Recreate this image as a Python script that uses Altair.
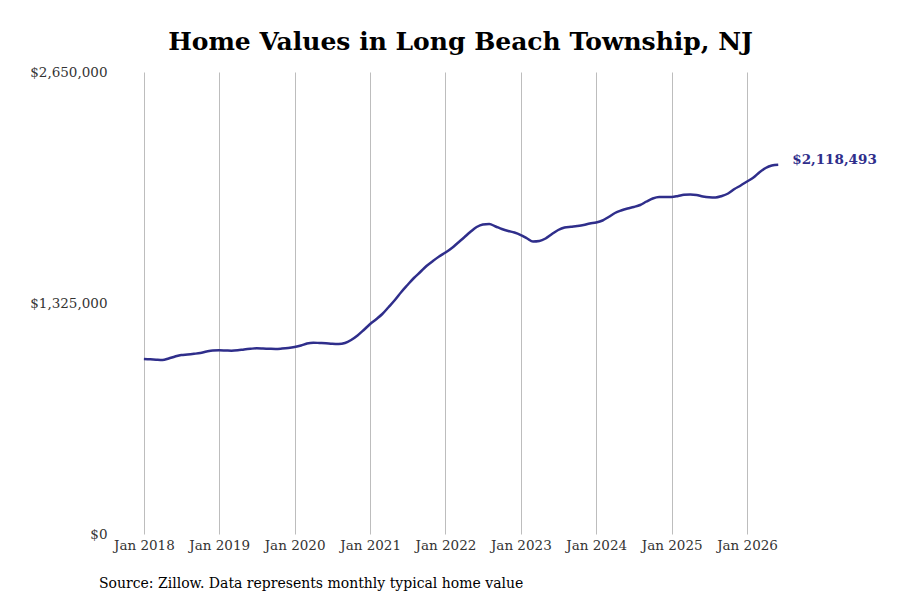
import altair as alt
import pandas as pd

# monthly typical home value, Jan 2018 - Jun 2026
start_month = "2018-01-01"
home_values = [
    1003800, 1002100, 999800, 998000, 1006700, 1018100, 1026700, 1029600, 1033600, 1038200, 1046800, 1052600,
    1053700, 1052600, 1051400, 1053700, 1058300, 1062300, 1065200, 1064000, 1062300, 1061100, 1063400, 1066900,
    1072600, 1081200, 1092700, 1097300, 1095600, 1093800, 1091000, 1089800, 1095600, 1112800, 1138600, 1170100,
    1204500, 1233200, 1261900, 1302100, 1342200, 1388100, 1428200, 1468400, 1502800, 1537200, 1565900, 1591700,
    1614600, 1640500, 1669100, 1700700, 1732300, 1760900, 1775300, 1778100, 1763800, 1749400, 1738000, 1729400,
    1715000, 1695000, 1677800, 1680600, 1695000, 1720800, 1743700, 1758100, 1762600, 1766700, 1772400, 1781000,
    1786800, 1798200, 1818300, 1841200, 1855600, 1867000, 1875700, 1887100, 1907200, 1924400, 1933000, 1933000,
    1933000, 1938800, 1945600, 1947400, 1944500, 1935900, 1931300, 1930100, 1938800, 1953200, 1978900, 1999000,
    2021900, 2044900, 2073500, 2099300, 2113700, 2118493,
]
tick_years = list(range(2018, 2027))
y_ticks = [0, 1325000, 2650000]

LINE_COLOR = "#2f2e8b"
FONT = "DejaVu Serif"

data = pd.DataFrame({
    "date": pd.date_range(start_month, periods=len(home_values), freq="MS").strftime("%Y-%m-%d"),
    "value": home_values,
})
last = data.tail(1)

x_scale = alt.Scale(
    type="utc",
    domain=[alt.DateTime(year=2017, month=8, date=14, utc=True),
            alt.DateTime(year=2026, month=7, date=28, utc=True)],
)
y_scale = alt.Scale(domain=[0, 2650000])

base = alt.Chart(data).encode(
    x=alt.X(
        "date:T",
        scale=x_scale,
        title=None,
        axis=alt.Axis(
            values=[alt.DateTime(year=y, month=1, date=1, utc=True) for y in tick_years],
            format="%b %Y",
            grid=True,
            gridColor="#bdbdbd",
            gridWidth=1,
            ticks=False,
            domain=False,
            labelPadding=4,
        ),
    ),
    y=alt.Y(
        "value:Q",
        scale=y_scale,
        title=None,
        axis=alt.Axis(
            values=y_ticks,
            format="$,.0f",
            grid=False,
            ticks=False,
            domain=False,
            labelPadding=8,
        ),
    ),
)

line = base.mark_line(color=LINE_COLOR, strokeWidth=2.5, interpolate="monotone")

end_label = alt.Chart(last).mark_text(
    align="left", baseline="middle", dx=14, dy=-5,
    font=FONT, fontSize=13.5, fontWeight="bold", color=LINE_COLOR,
).encode(
    x=alt.X("date:T", scale=x_scale),
    y=alt.Y("value:Q", scale=y_scale),
    text=alt.Text("value:Q", format="$,.0f"),
)

source = alt.Chart(last).mark_text(
    align="left", baseline="middle", font=FONT, fontSize=14, color="#000000",
).encode(
    x=alt.value(-16),
    y=alt.value(512),
    text=alt.value("Source: Zillow. Data represents monthly typical home value"),
)

chart = (
    alt.layer(line, end_label, source)
    .properties(
        width=675,
        height=462,
        title=alt.TitleParams(
            "Home Values in Long Beach Township, NJ",
            font=FONT, fontSize=25, fontWeight="bold", color="#000000",
            anchor="middle", dx=8, offset=10,
        ),
        autosize=alt.AutoSizeParams(type="none"),
        padding={"left": 107, "top": 64, "right": 94, "bottom": 58},
    )
    .configure(
        view=alt.ViewConfig(strokeOpacity=0),
        axis=alt.AxisConfig(labelFont=FONT, labelFontSize=13.5, labelColor="#333333"),
        background="#ffffff",
    )
)

chart.save("out.html", embed_options={"renderer": "svg", "actions": False})
